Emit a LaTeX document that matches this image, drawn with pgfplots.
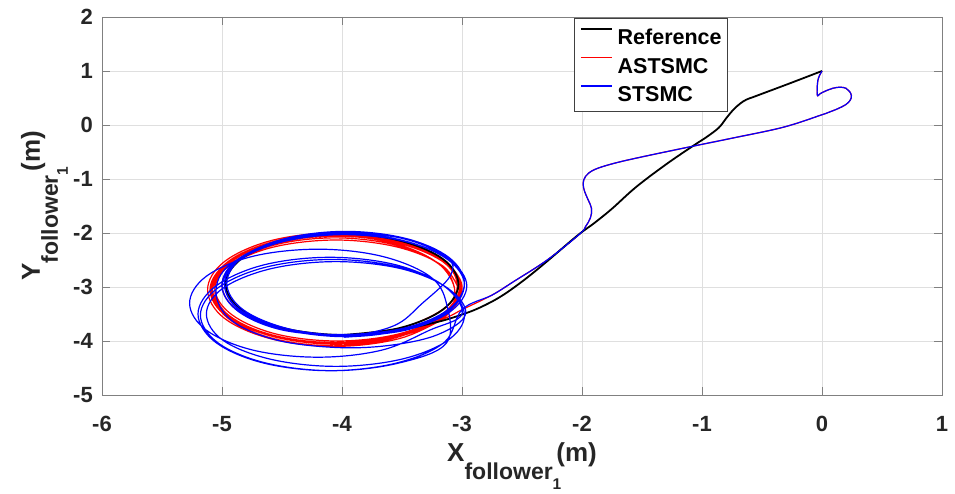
\documentclass[border=0pt]{standalone}
\usepackage{pgfplots}
\pgfplotsset{compat=1.18}
\usepackage{fontspec}
\setmainfont{Liberation Sans}
\usetikzlibrary{calc}

\definecolor{axgray}{RGB}{128,128,128}
\definecolor{txtgray}{RGB}{38,38,38}
\definecolor{gridgray}{RGB}{223,223,223}
\definecolor{legred}{RGB}{255,0,0}
\definecolor{legblue}{RGB}{0,0,255}

% axis label: X_{follower_1} (m) style
\newcommand{\followerlabel}[1]{%
  {\fontsize{26}{30}\selectfont\bfseries #1}%
  \raisebox{-18pt}{\fontsize{23}{26}\selectfont\bfseries follower}%
  \raisebox{-28pt}{\fontsize{15.5}{17}\selectfont\bfseries 1}%
  \kern-5pt{\fontsize{26}{30}\selectfont\bfseries (m)}}

\begin{document}
\begin{tikzpicture}
\begin{axis}[
  name=ax, at={(0,0)}, anchor=south west,
  scale only axis, width=840pt, height=378pt,
  xmin=-6, xmax=1, ymin=-5, ymax=2,
  xtick={-6,-5,-4,-3,-2,-1,0,1},
  ytick={-5,-4,-3,-2,-1,0,1,2},
  grid=major,
  major grid style={gridgray, line width=0.8pt},
  axis line style={axgray, line width=0.8pt},
  tick style={axgray, line width=0.8pt},
  major tick length=8pt, tick align=inside,
  /pgf/number format/assume math mode=true,
  tick label style={font=\fontsize{22}{22}\selectfont\bfseries, text=txtgray},
  xticklabel style={inner sep=0pt, anchor=north, yshift=-21pt},
  yticklabel style={inner sep=0pt, anchor=east, xshift=-9pt},
  legend cell align=left,
  legend image code/.code={\draw[#1] (0pt,7.7pt) -- (31pt,7.7pt);},
  legend style={at={(0.562,0.997)}, anchor=north west,
    line width=0.6pt, fill=white,
    inner xsep=5.5pt, inner ysep=10pt, row sep=12.3pt, column sep=5pt,
    font=\fontsize{21.5}{21.5}\selectfont\bfseries,
    nodes={inner sep=0pt, text height=15.4pt, text depth=0pt}},
  every axis legend/.append style={draw=black!75},
]

% legend entries, in the order Reference, ASTSMC, STSMC
\addlegendimage{draw=black, line width=1.8pt}
\addlegendentry{Reference}
\addlegendimage{draw=legred, line width=1.2pt}
\addlegendentry{ASTSMC}
\addlegendimage{draw=legblue, line width=1.2pt}
\addlegendentry{STSMC}

% ASTSMC
\addplot[draw=red, line width=1.2pt, smooth, tension=0.6, forget plot] coordinates {
 (0,1) (-0.02,0.92) (-0.035,0.82) (-0.04,0.68) (-0.04,0.58) (-0.035,0.54)
 (-0.015,0.58) (0.03,0.63) (0.09,0.68) (0.15,0.7) (0.2,0.68) (0.23,0.62)
 (0.245,0.54) (0.235,0.46) (0.2,0.38) (0.13,0.3) (0.05,0.23) (0,0.19)
 (-0.32,-0.04) (-0.74,-0.24) (-1.07,-0.39) (-1.52,-0.6) (-1.75,-0.72)
 (-1.9,-0.83) (-1.97,-0.95) (-1.99,-1.08) (-1.98,-1.22) (-1.95,-1.38)
 (-1.92,-1.55) (-1.93,-1.72) (-1.97,-1.88) (-2.02,-2.02) (-2.29,-2.5)
 (-2.57,-2.9) (-2.75,-3.15) (-3.0,-3.42)
 (-3.14,-3.58) (-3.53,-3.96) (-4.06,-4.10) (-4.59,-3.96) (-4.98,-3.58) (-5.12,-3.05)
 (-4.98,-2.53) (-4.59,-2.14) (-4.06,-2.00) (-3.53,-2.14) (-3.14,-2.53) (-3.00,-3.05)
 (-3.15,-3.55) (-3.53,-3.92) (-4.05,-4.06) (-4.57,-3.92) (-4.95,-3.55) (-5.09,-3.04)
 (-4.95,-2.53) (-4.57,-2.16) (-4.05,-2.02) (-3.53,-2.16) (-3.15,-2.53) (-3.01,-3.04)
 (-3.16,-3.53) (-3.54,-3.90) (-4.05,-4.03) (-4.57,-3.90) (-4.94,-3.53) (-5.08,-3.03)
 (-4.94,-2.53) (-4.57,-2.16) (-4.05,-2.03) (-3.54,-2.16) (-3.16,-2.53) (-3.02,-3.03)
 (-3.16,-3.51) (-3.53,-3.87) (-4.04,-4.00) (-4.55,-3.87) (-4.92,-3.51) (-5.06,-3.02)
 (-4.92,-2.53) (-4.55,-2.17) (-4.04,-2.04) (-3.53,-2.17) (-3.16,-2.53) (-3.02,-3.02)
 (-3.19,-3.55) (-3.56,-3.90) (-4.06,-4.03) (-4.56,-3.90) (-4.93,-3.55) (-5.06,-3.06)
 (-4.93,-2.58) (-4.56,-2.22) (-4.06,-2.09) (-3.56,-2.22) (-3.19,-2.58) (-3.06,-3.06)
 (-3.14,-3.55) (-3.53,-3.91) (-4.05,-4.04) (-4.58,-3.91) (-4.96,-3.55) (-5.10,-3.05)
 (-4.96,-2.56) (-4.58,-2.19) (-4.05,-2.06) (-3.53,-2.19) (-3.14,-2.56) (-3.00,-3.05)
 (-3.20,-3.58) (-3.57,-3.95) (-4.07,-4.09) (-4.58,-3.95) (-4.95,-3.58) (-5.08,-3.07)
 (-4.95,-2.56) (-4.58,-2.19) (-4.07,-2.05) (-3.57,-2.19) (-3.20,-2.56) (-3.06,-3.07)
 (-3.17,-3.43) (-3.53,-3.77) (-4.02,-3.89) (-4.51,-3.77) (-4.87,-3.43) (-5.00,-2.97)
 (-4.87,-2.51) (-4.51,-2.17) (-4.02,-2.05) (-3.53,-2.17) (-3.17,-2.51) (-3.04,-2.97)
 (-3.16,-3.56) (-3.54,-3.90) (-4.05,-4.03) (-4.57,-3.90) (-4.94,-3.56) (-5.08,-3.08)
 (-4.94,-2.61) (-4.57,-2.26) (-4.05,-2.13) (-3.54,-2.26) (-3.16,-2.61) (-3.02,-3.08)
};

% reference trajectory
\addplot[draw=black, line width=1.8pt, smooth, tension=0.6, forget plot] coordinates {
 (0,1) (-0.27,0.77) (-0.45,0.62) (-0.57,0.52) (-0.63,0.47) (-0.68,0.40)
 (-0.74,0.28) (-0.8,0.12) (-0.86,-0.05) (-0.96,-0.22) (-1.07,-0.38)
 (-1.3,-0.73) (-1.55,-1.15) (-1.75,-1.55) (-1.9,-1.82) (-2.04,-2.05)
 (-2.31,-2.56) (-2.5,-2.9) (-2.68,-3.18) (-2.85,-3.38) (-3.0,-3.51)
 (-3.21,-3.65) (-3.55,-3.8) (-4.0,-3.89)
 (-4.49,-3.76) (-4.84,-3.42) (-4.97,-2.95) (-4.84,-2.48) (-4.49,-2.14) (-4.0,-2.01)
 (-3.52,-2.14) (-3.16,-2.48) (-3.03,-2.95) (-3.16,-3.42) (-3.52,-3.76) (-4.0,-3.89)
 (-4.49,-3.76) (-4.84,-3.42) (-4.97,-2.95) (-4.84,-2.48) (-4.49,-2.14) (-4.0,-2.01)
 (-3.52,-2.14) (-3.16,-2.48) (-3.03,-2.95) (-3.16,-3.42) (-3.52,-3.76) (-4.0,-3.89)
};

% STSMC
\addplot[draw=blue, line width=1.2pt, smooth, tension=0.6, forget plot] coordinates {
 (0,1) (-0.02,0.92) (-0.035,0.82) (-0.04,0.68) (-0.04,0.58) (-0.035,0.54)
 (-0.015,0.58) (0.03,0.63) (0.09,0.68) (0.15,0.7) (0.2,0.68) (0.23,0.62)
 (0.245,0.54) (0.235,0.46) (0.2,0.38) (0.13,0.3) (0.05,0.23) (0,0.19)
 (-0.32,-0.04) (-0.74,-0.24) (-1.07,-0.39) (-1.52,-0.6) (-1.75,-0.72)
 (-1.9,-0.83) (-1.97,-0.95) (-1.99,-1.08) (-1.98,-1.22) (-1.95,-1.38)
 (-1.92,-1.55) (-1.93,-1.72) (-1.97,-1.88) (-2.02,-2.02) (-2.29,-2.5)
 (-2.57,-2.9) (-2.75,-3.15) (-3.0,-3.42)
 (-3.15,-4.03) (-3.55,-4.41) (-4.10,-4.55) (-4.65,-4.41) (-5.05,-4.03) (-5.20,-3.50)
 (-5.05,-2.98) (-4.65,-2.59) (-4.10,-2.45) (-3.55,-2.59) (-3.15,-2.98) (-3.00,-3.50)
 (-3.27,-3.80) (-3.67,-4.17) (-4.20,-4.30) (-4.74,-4.17) (-5.13,-3.80) (-5.27,-3.30)
 (-5.13,-2.80) (-4.74,-2.43) (-4.20,-2.30) (-3.67,-2.43) (-3.27,-2.80) (-3.13,-3.30)
 (-3.13,-4.04) (-3.53,-4.41) (-4.08,-4.55) (-4.63,-4.41) (-5.03,-4.04) (-5.18,-3.52)
 (-5.03,-3.01) (-4.63,-2.63) (-4.08,-2.49) (-3.53,-2.63) (-3.13,-3.01) (-2.98,-3.52)
 (-3.12,-3.99) (-3.51,-4.34) (-4.05,-4.47) (-4.59,-4.34) (-4.99,-3.99) (-5.13,-3.50)
 (-4.99,-3.02) (-4.59,-2.66) (-4.05,-2.53) (-3.51,-2.66) (-3.12,-3.02) (-2.97,-3.50)
 (-3.2,-3.88) (-3.6,-4.08) (-4.05,-4.12) (-4.55,-3.98) (-4.92,-3.62) (-5.05,-3.1)
 (-4.93,-2.58) (-4.5,-2.16) (-3.98,-2.0) (-3.45,-2.12) (-3.12,-2.45) (-3.1,-2.8)
 (-3.33,-3.3) (-3.57,-3.72) (-3.98,-3.9)
 (-4.48,-3.79) (-4.85,-3.44) (-4.98,-2.95) (-4.85,-2.47) (-4.48,-2.11) (-3.98,-1.98)
 (-3.48,-2.11) (-3.11,-2.47) (-2.98,-2.95) (-3.11,-3.44) (-3.48,-3.79) (-3.98,-3.92)
 (-4.50,-3.78) (-4.87,-3.44) (-5.00,-2.96) (-4.87,-2.49) (-4.50,-2.14) (-3.99,-2.01)
 (-3.49,-2.14) (-3.12,-2.49) (-2.98,-2.96) (-3.12,-3.44) (-3.49,-3.78) (-3.99,-3.91)
 (-4.47,-3.76) (-4.83,-3.41) (-4.96,-2.93) (-4.83,-2.45) (-4.47,-2.10) (-3.97,-1.97)
 (-3.47,-2.10) (-3.11,-2.45) (-2.98,-2.93) (-3.11,-3.41) (-3.47,-3.76) (-3.97,-3.89)
 (-4.48,-3.76) (-4.85,-3.42) (-4.98,-2.95) (-4.85,-2.49) (-4.48,-2.15) (-3.98,-2.02)
 (-3.48,-2.15) (-3.11,-2.49) (-2.98,-2.95) (-3.11,-3.42) (-3.48,-3.76) (-3.98,-3.88)
 (-4.49,-3.80) (-4.86,-3.46) (-5.00,-2.98) (-4.86,-2.51) (-4.49,-2.16) (-3.98,-2.03)
 (-3.47,-2.16) (-3.10,-2.51) (-2.96,-2.98) (-3.10,-3.46) (-3.47,-3.80) (-3.98,-3.93)
};
\end{axis}

% axis titles
\path ($(ax.south)+(0,-67pt)$) node[anchor=base, text=txtgray, inner sep=0pt] {\followerlabel{X}};
\path ($(ax.west)+(-62pt,0)$) node[rotate=90, anchor=base, text=txtgray, inner sep=0pt] {\followerlabel{Y}};

\pgfresetboundingbox
\path[use as bounding box] ($(ax.south west)+(-102pt,-99pt)$) rectangle ($(ax.north east)+(13pt,17pt)$);
\end{tikzpicture}
\end{document}
